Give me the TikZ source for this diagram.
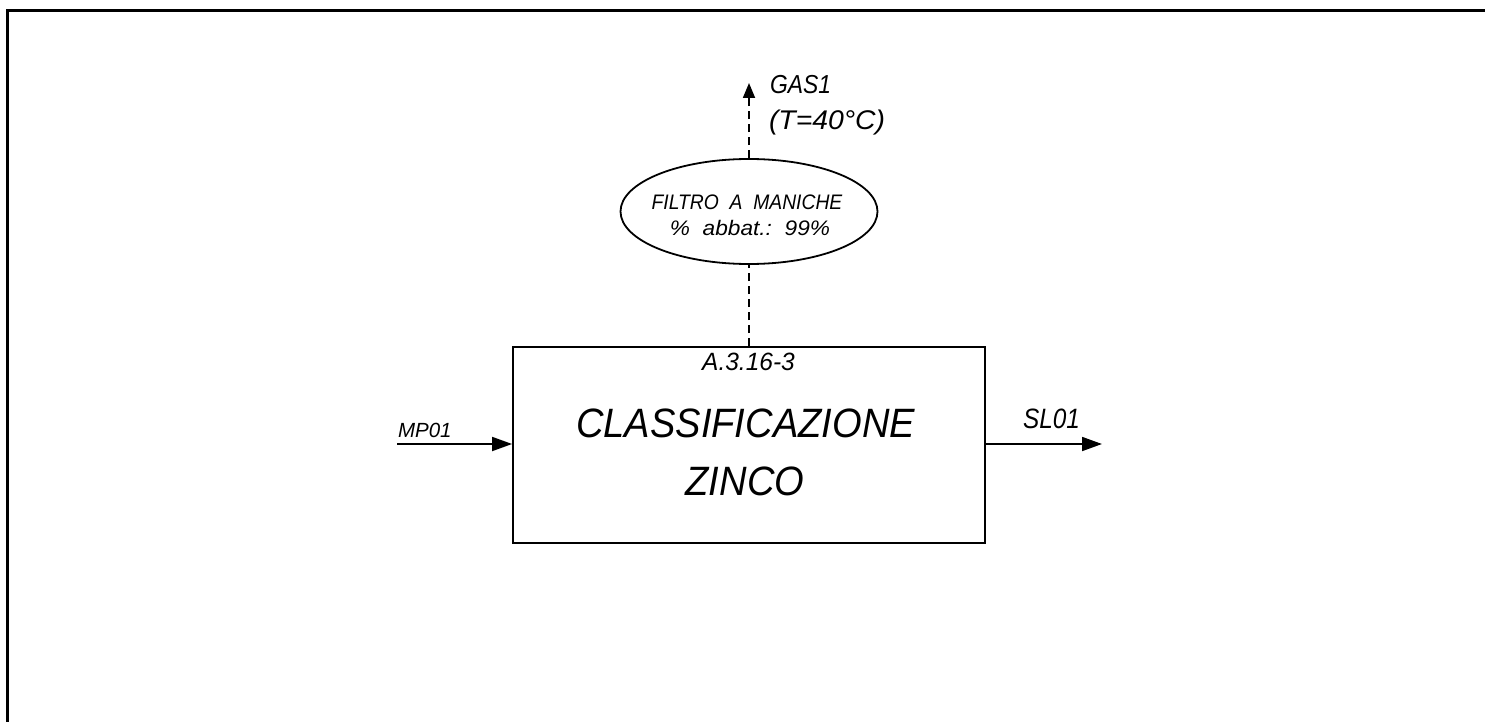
\documentclass[tikz,border=0pt]{standalone}
\usepackage{fontspec}
\setmainfont{Liberation Sans}
\usetikzlibrary{shapes.geometric,arrows.meta}
\newcommand{\fsz}[1]{\fontsize{#1}{#1}\selectfont\itshape}
\begin{document}
\begin{tikzpicture}[x=1pt,y=-1pt,
  thinline/.style={line width=1.8pt},
  dashline/.style={line width=1.8pt, dash pattern=on 8pt off 5pt},
  lbl/.style={inner sep=0pt, outer sep=0pt},
  bigtip/.style={-{Triangle[length=20pt,width=14pt]}},
  smalltip/.style={-{Triangle[length=15pt,width=12pt]}}]
\useasboundingbox (0,0) rectangle (1485,722);
% frame
\coordinate (fbl) at (7,722);
\coordinate (ftl) at (7,11);
\coordinate (ftr) at (1485,11);
\draw[line width=3pt] (fbl) -- (ftl) -- (ftr);
% process box
\node[draw, thinline, rectangle, minimum width=472pt, minimum height=196pt, inner sep=0pt] (box) at (749,445) {};
\node[lbl, anchor=base] (code) at (748.5,370) {\fsz{25}\scalebox{0.98}[1]{A.3.16-3}};
\node[lbl, anchor=base] (t1) at (745.5,437) {\fsz{41}\scalebox{0.93}[1]{CLASSIFICAZIONE}};
\node[lbl, anchor=base] (t2) at (745,495) {\fsz{41}\scalebox{0.93}[1]{ZINCO}};
% filter
\node[draw, thinline, ellipse, minimum width=257pt, minimum height=105pt, inner sep=0pt] (filt) at (749,211.5) {};
\node[lbl, anchor=base] (f1) at (747,209) {\fsz{21}\scalebox{0.92}[1]{FILTRO\ \ A\ \ MANICHE}};
\node[lbl, anchor=base] (f2) at (750,235) {\fsz{21}\scalebox{1.08}[1]{\%\ \ abbat.:\ \ 99\%}};
% connectors
\coordinate (gastip) at (749,83);
\draw[dashline] (box.north) -- (filt.south);
\draw[dashline, smalltip] (filt.north) -- (gastip);
\node[lbl, anchor=base west] (gas) at (770,94) {\fsz{26}\scalebox{0.88}[1]{GAS1}};
\node[lbl, anchor=base west] (gast) at (769,130) {\fsz{27}\scalebox{1.05}[1]{(T=40°C)}};
\coordinate (mpin) at (397,444);
\draw[thinline, bigtip] (mpin) -- (mpin -| box.west);
\node[lbl, anchor=base west] (mp) at (398,437) {\fsz{20.5}\scalebox{1.0}[1]{MP01}};
\coordinate (slout) at (1102,444);
\draw[thinline, bigtip] (slout -| box.east) -- (slout);
\node[lbl, anchor=base west] (sl) at (1023,428) {\fsz{28}\scalebox{0.87}[1]{SL01}};
\end{tikzpicture}
\end{document}
